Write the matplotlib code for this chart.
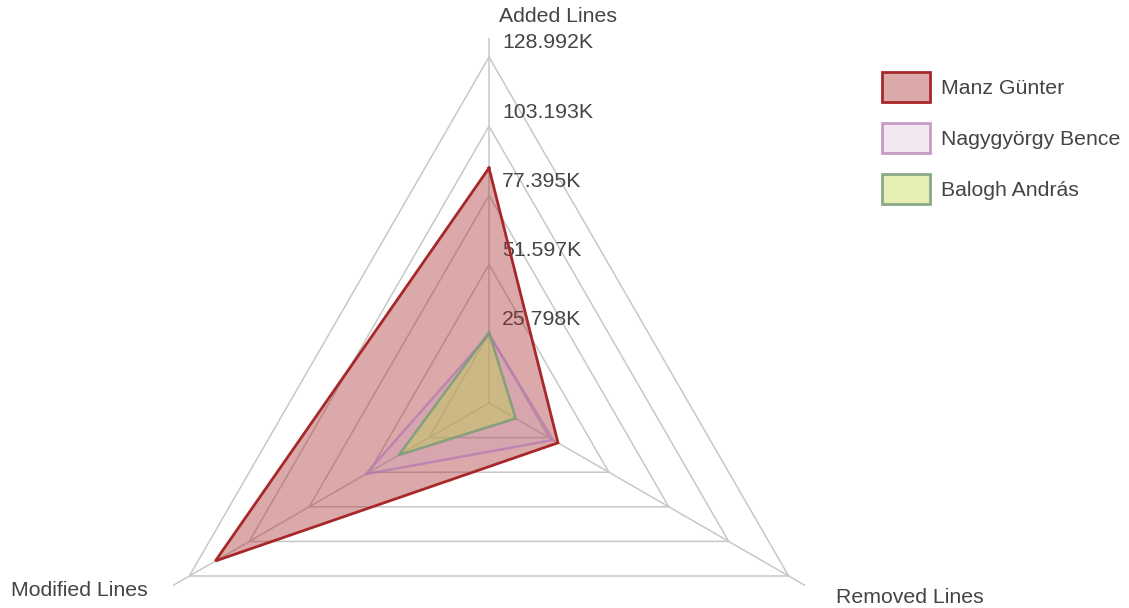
import numpy as np
import matplotlib
matplotlib.use('Agg')
import matplotlib.pyplot as plt
from matplotlib.patches import Patch

plt.rcParams['font.family'] = ['Liberation Sans', 'DejaVu Sans']

# Adatok (ezer sorban)
axes_labels = ['Added Lines', 'Removed Lines', 'Modified Lines']
tick_values = [25.798, 51.597, 77.395, 103.193, 128.992]
tick_labels = ['25.798K', '51.597K', '77.395K', '103.193K', '128.992K']

authors = ['Manz Günter', 'Nagygyörgy Bence', 'Balogh András']
manz = [87.6, 29.7, 117.8]
bence = [25.6, 27.6, 53.0]
balogh = [26.3, 11.5, 38.8]

edge_colors = ['#a8282a', '#b277b2', '#789d78']
edge_alphas = [1.0, 0.7, 0.85]
fill_colors = ['#a52a2a', '#c89ac4', '#bed746']
fill_alphas = [0.4, 0.22, 0.4]

text_color = '#444444'
grid_color = '#c8c8c8'
fs = 15.3

fig = plt.figure(figsize=(11.29, 6.08), dpi=100)

# polar tengely: középpont (489, 403) px, sugár 365 px
cx, cy, rad = 489, 403, 365
W, H = 1129, 608
ax = fig.add_axes([(cx - rad) / W, (H - cy - rad) / H, 2 * rad / W, 2 * rad / H],
                  projection='polar')
ax.set_theta_offset(np.pi / 2)
ax.set_theta_direction(-1)
r_max = tick_values[-1] * rad / 346
ax.set_ylim(0, r_max)
ax.set_axis_off()

angles = np.linspace(0, 2 * np.pi, len(axes_labels), endpoint=False)
closed = np.append(angles, angles[0])

# Rács: háromszögek és küllők
for t in tick_values:
    ax.plot(closed, [t] * len(closed), color=grid_color, lw=1.1, zorder=1)
for a in angles:
    ax.plot([a, a], [0, r_max], color=grid_color, lw=1.1, zorder=1)

# Skála feliratok (a kitöltés alatt)
for t, lab in zip(tick_values, tick_labels):
    ax.annotate(lab, xy=(0, t), xytext=(13, 14), textcoords='offset pixels',
                ha='left', va='center', fontsize=fs, color=text_color, zorder=1.5)

# Adatsorok
for i, vals in enumerate([manz, bence, balogh]):
    v = np.append(vals, vals[0])
    ax.fill(closed, v, color=fill_colors[i], alpha=fill_alphas[i], lw=0, zorder=2 + i)
    ax.plot(closed, v, color=edge_colors[i], alpha=edge_alphas[i],
            lw=2.0 if i == 0 else 1.8, zorder=5 + i, solid_joinstyle='miter')

# Tengely nevek
offsets = [(10, 21, 'left'), (31, -12, 'left'), (-25, -5, 'right')]
for a, lab, (dx, dy, ha) in zip(angles, axes_labels, offsets):
    ax.annotate(lab, xy=(a, r_max), xytext=(dx, dy), textcoords='offset pixels',
                ha=ha, va='center', fontsize=fs, color=text_color)

# Jelmagyarázat
handles = [Patch(facecolor=matplotlib.colors.to_rgba(fill_colors[i], fill_alphas[i]),
                 edgecolor=matplotlib.colors.to_rgba(edge_colors[i], edge_alphas[i]),
                 lw=2.0)
           for i in range(3)]
leg = fig.legend(handles, authors, loc='upper left',
                 bbox_to_anchor=(882 / W, 1 - 72 / H), frameon=False,
                 fontsize=fs, handlelength=2.26, handleheight=1.795,
                 handletextpad=0.5, labelspacing=0.99, borderpad=0,
                 borderaxespad=0)
for txt in leg.get_texts():
    txt.set_color(text_color)

fig.savefig('out.png', dpi=100)
